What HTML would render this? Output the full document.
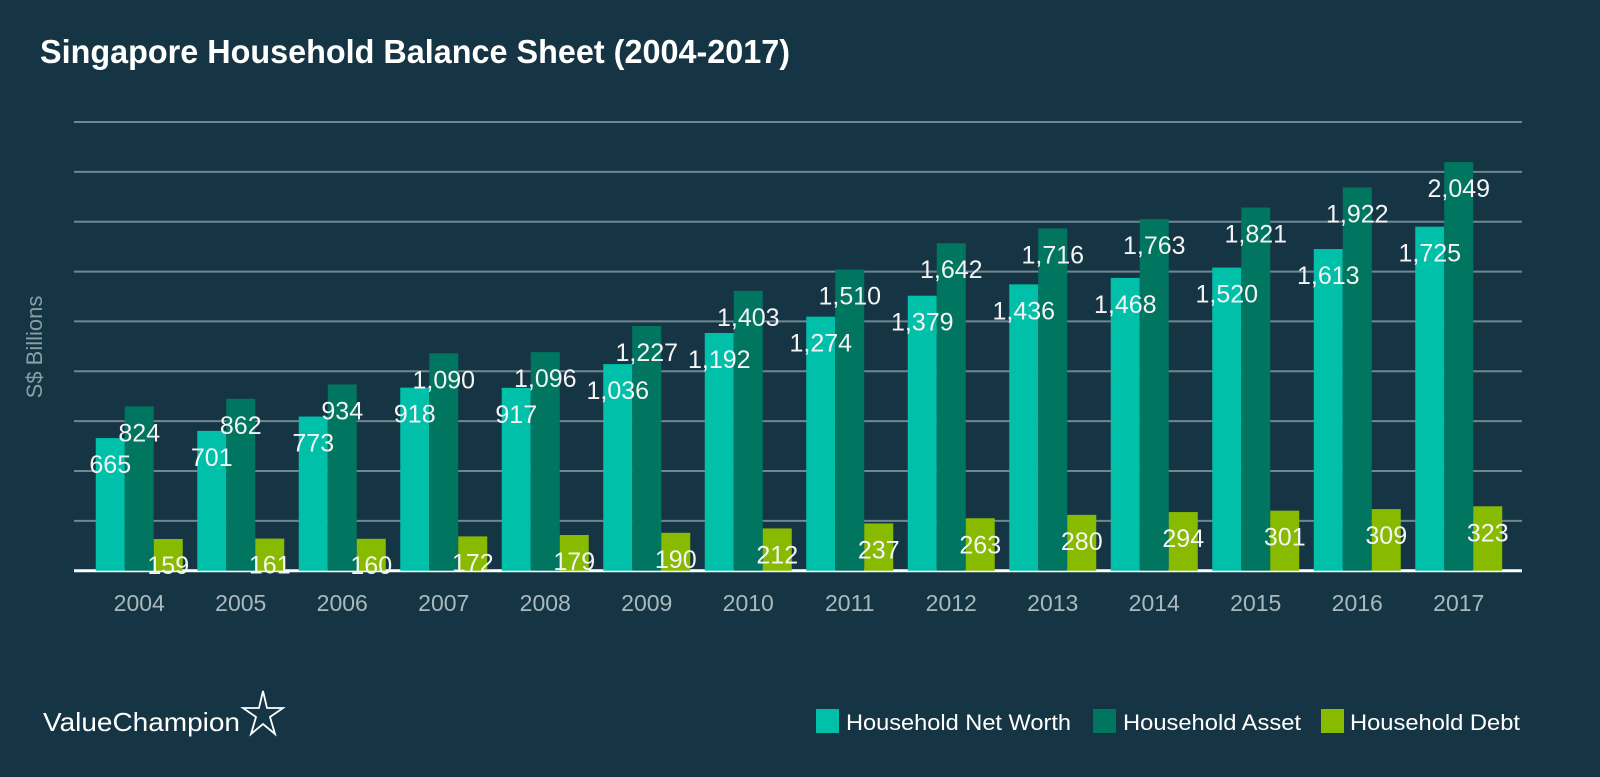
<!DOCTYPE html>
<html><head><meta charset="utf-8"><style>
html,body{margin:0;padding:0;background:#163544;}
svg{display:block;font-family:"Liberation Sans",sans-serif;}
</style></head><body>
<svg id="chart" width="1600" height="777" viewBox="0 0 1600 777">
<rect width="1600" height="777" fill="#163544"/>
<text x="40" y="63" fill="#ffffff" font-size="33" font-weight="bold" textLength="750" lengthAdjust="spacingAndGlyphs">Singapore Household Balance Sheet (2004-2017)</text>
<text transform="translate(42,347) rotate(-90)" text-anchor="middle" fill="#8a9ea6" font-size="22">S$ Billions</text>
<g id="grid"></g>
<g id="bars"></g>
<g id="labels"></g>
<g id="xlabels"></g>
<g>
<text x="43" y="731" fill="#ffffff" font-size="26" textLength="197" lengthAdjust="spacingAndGlyphs">ValueChampion</text>
<polygon points="263,691 267,708 283,708 270,717 275,734 263,724 251,734 256,717 243,708 259,708" fill="none" stroke="#ffffff" stroke-width="1.8"/>
</g>
<g>
<rect x="816" y="709" width="23" height="24" fill="#00c0aa"/>
<text x="846" y="730" fill="#ffffff" font-size="22" textLength="225" lengthAdjust="spacingAndGlyphs">Household Net Worth</text>
<rect x="1093" y="709" width="23" height="24" fill="#007560"/>
<text x="1123" y="730" fill="#ffffff" font-size="22" textLength="178" lengthAdjust="spacingAndGlyphs">Household Asset</text>
<rect x="1321" y="709" width="23" height="24" fill="#88bb00"/>
<text x="1350" y="730" fill="#ffffff" font-size="22" textLength="170" lengthAdjust="spacingAndGlyphs">Household Debt</text>
</g>
</svg>
<script>
const years = ["2004","2005","2006","2007","2008","2009","2010","2011","2012","2013","2014","2015","2016","2017"];
const netWorth = [665,701,773,918,917,1036,1192,1274,1379,1436,1468,1520,1613,1725];
const assets = [824,862,934,1090,1096,1227,1403,1510,1642,1716,1763,1821,1922,2049];
const debt = [159,161,160,172,179,190,212,237,263,280,294,301,309,323];
const gridTicks = [250,500,750,1000,1250,1500,1750,2000,2250];

const NS = "http://www.w3.org/2000/svg";
const base = 570.7, yMax = 2250, yTop = 122;
function y(v){ return base - v*(base-yTop)/yMax; }
const bandStart = 88.5, band = 101.5, barW = 29;
function xGroup(i){ return bandStart + band*i + band/2; }
function mk(tag, attrs, parent){ const e=document.createElementNS(NS,tag); for(const k in attrs) e.setAttribute(k,attrs[k]); parent.appendChild(e); return e; }
const fmt = v => v.toLocaleString("en-US");

const grid = document.getElementById("grid");
gridTicks.forEach(t => {
  const l = mk("line",{x1:74,x2:1522,y1:y(t),y2:y(t),stroke:"#6f8790","stroke-width":2},grid);
  
  
});
const bl = mk("line",{x1:74,x2:1522,y1:base,y2:base,stroke:"#ffffff","stroke-width":3},grid);



const series = [
  {vals:netWorth,color:"#00c0aa",name:"net-worth"},
  {vals:assets,color:"#007560",name:"asset"},
  {vals:debt,color:"#88bb00",name:"debt"}
];
const bars = document.getElementById("bars"), labels = document.getElementById("labels"), xl = document.getElementById("xlabels");
years.forEach((yr,i) => {
  const gx = xGroup(i) - 1.5*barW;
  series.forEach((s,k) => {
    const v = s.vals[i], bx = gx + k*barW;
    const r = mk("rect",{x:bx,y:y(v),width:barW,height:base-y(v),fill:s.color},bars);
    
    
    const t = mk("text",{x:bx+barW/2,y:y(v)+35,"text-anchor":"middle",fill:"#f4f4f4","font-size":25},labels);
    t.textContent = fmt(v);
    
    
  });
  const xt = mk("text",{x:xGroup(i),y:611,"text-anchor":"middle",fill:"#aab9be","font-size":23},xl);
  xt.textContent = yr;
  
  
});
</script>
</body></html>
